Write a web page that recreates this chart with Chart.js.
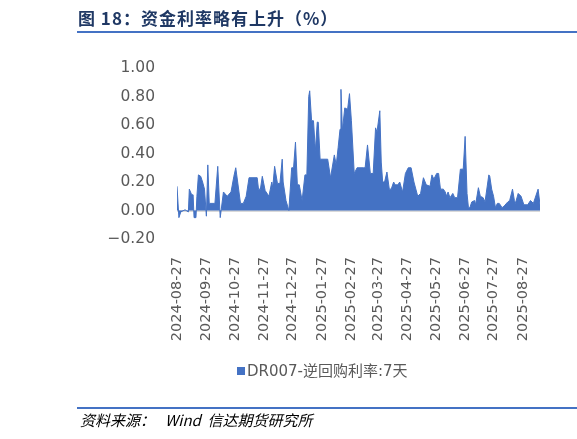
<!DOCTYPE html>
<html><head><meta charset="utf-8">
<script src="https://cdn.jsdelivr.net/npm/chart.js@4"></script>
<style>
body{margin:0;width:577px;height:439px;position:relative;background:#fff;font-family:"Noto Sans CJK SC","DejaVu Sans",sans-serif;overflow:hidden}
#c{position:absolute;left:0;top:0}
#title{position:absolute;left:78px;top:5px;font-size:17px;font-weight:bold;color:#1f3864;letter-spacing:1px}
#tl{position:absolute;left:77px;right:0;top:31px;height:2px;background:#4472c4}
#bl{position:absolute;left:77px;right:0;top:407px;height:2px;background:#4472c4}
#src{position:absolute;left:80px;top:409px;font-size:15px;font-style:italic;color:#000}
#leg{position:absolute;left:237px;top:359px;font-size:15px;color:#595959;font-family:"DejaVu Sans","Noto Sans CJK SC",sans-serif}
#leg span{display:inline-block;width:8px;height:8px;background:#4472c4;margin-right:2px;vertical-align:1px}
</style></head><body>
<canvas id="c" width="577" height="439"></canvas>
<div id="title">图 18：资金利率略有上升（%）</div>
<div id="tl"></div>
<div id="leg"><span></span>DR007-逆回购利率:7天</div>
<div id="bl"></div>
<div id="src">资料来源：&nbsp;&nbsp;&nbsp;Wind&nbsp; 信达期货研究所</div>
<script>
const seriesName = "DR007-逆回购利率:7天";
const startDate = "2024-08-27";
// day offsets from 2024-08-27
const days = [0,2,4,8.5,12,13,15.5,17,18,20,21,22.6,25,27,29,31,32.5,34,40,43,45.6,49,53,57,60,62,64,67,70,73,76,84.6,86,88,90,93,97,100,101,103,106,108.6,111,112,115,118,121,123,125,127,129,132,135,137,139,140,142,144,146,148,149,151,159,162,166,168,170,172,173,174.5,177,180,182,184,187,190,197,198.5,201,204,207,209.5,211,214,215.5,217,219,221.5,224,226,228.6,230,233,235,238,241,244,247,250,254,257,260,263,267,269,271,274,276,278,281,283,284.5,286,288,291,293,296,299,302,304,306,307.5,309,311,314,315,318,320,323,325,329,330,332,334,336,338,340,343,345,349,351,354,356,357,360,363,366,370,373,376,380,381,383];
const values = [0.17,-0.05,-0.01,0.005,-0.01,0.15,0.11,0.11,-0.05,-0.05,0.1,0.25,0.24,0.2,0.15,-0.04,0.32,0.05,0.05,0.31,-0.05,0.13,0.1,0.13,0.24,0.3,0.2,0.05,0.05,0.1,0.23,0.23,0.15,0.15,0.24,0.14,0.1,0.2,0.16,0.31,0.19,0.19,0.36,0.2,0.07,0.0,0.3,0.3,0.48,0.18,0.18,0.07,0.25,0.25,0.8,0.84,0.63,0.63,0.42,0.62,0.62,0.36,0.36,0.23,0.39,0.32,0.44,0.57,0.85,0.56,0.72,0.71,0.82,0.63,0.26,0.3,0.3,0.3,0.46,0.26,0.26,0.58,0.55,0.7,0.34,0.2,0.2,0.27,0.15,0.15,0.2,0.18,0.18,0.2,0.13,0.26,0.3,0.3,0.2,0.1,0.12,0.23,0.18,0.17,0.25,0.22,0.26,0.26,0.15,0.15,0.13,0.1,0.13,0.09,0.12,0.09,0.09,0.29,0.29,0.52,0.12,0.02,0.02,0.06,0.07,0.04,0.16,0.1,0.09,0.06,0.25,0.24,0.15,0.1,0.02,0.05,0.05,0.02,0.03,0.06,0.07,0.15,0.07,0.05,0.12,0.1,0.04,0.04,0.07,0.05,0.13,0.15,0.04];
const tickLabels = ["2024-08-27","2024-09-27","2024-10-27","2024-11-27","2024-12-27","2025-01-27","2025-02-27","2025-03-27","2025-04-27","2025-05-27","2025-06-27","2025-07-27","2025-08-27"];
const yTicks = [1.0,0.8,0.6,0.4,0.2,0.0,-0.2];

const t0 = Date.UTC(2024,7,27);
const tickDays = tickLabels.map(s=>{const [y,m,d]=s.split('-').map(Number);return Math.round((Date.UTC(y,m-1,d)-t0)/86400000);});
const pts = days.map((d,i)=>({x:d,y:values[i]}));
const grey='#595959';
new Chart(document.getElementById('c'),{
 type:'line',
 data:{datasets:[{label:seriesName,data:pts,fill:'origin',backgroundColor:'#4472c4',borderColor:'#4472c4',borderWidth:1,pointRadius:0,tension:0}]},
 options:{responsive:false,animation:false,
  layout:{padding:{left:0,top:68,right:37,bottom:0}},
  plugins:{legend:{display:false},tooltip:{enabled:false}},
  scales:{
   x:{type:'linear',min:0,max:383,
    afterBuildTicks:a=>{a.ticks=tickDays.map(v=>({value:v}));},
    afterFit:a=>{a.height=200;},
    ticks:{autoSkip:false,maxRotation:90,minRotation:90,padding:10,color:grey,font:{family:'DejaVu Sans',size:14.5},
      callback:(v)=>{const i=tickDays.indexOf(v);return i>=0?tickLabels[i]:'';}},
    grid:{display:false},border:{display:false}},
   y:{min:-0.2,max:1.0,
    afterBuildTicks:a=>{a.ticks=yTicks.map(v=>({value:v}));},
    afterFit:a=>{a.width=177;},
    ticks:{color:grey,padding:22,font:{family:'DejaVu Sans',size:15.5},callback:v=>(v<0?'−':'')+Math.abs(v).toFixed(2)},
    grid:{drawTicks:false,color:c=>c.tick&&c.tick.value===0?'#d9d9d9':'rgba(0,0,0,0)',lineWidth:2},border:{display:false}}
  }}
});
</script></body></html>
